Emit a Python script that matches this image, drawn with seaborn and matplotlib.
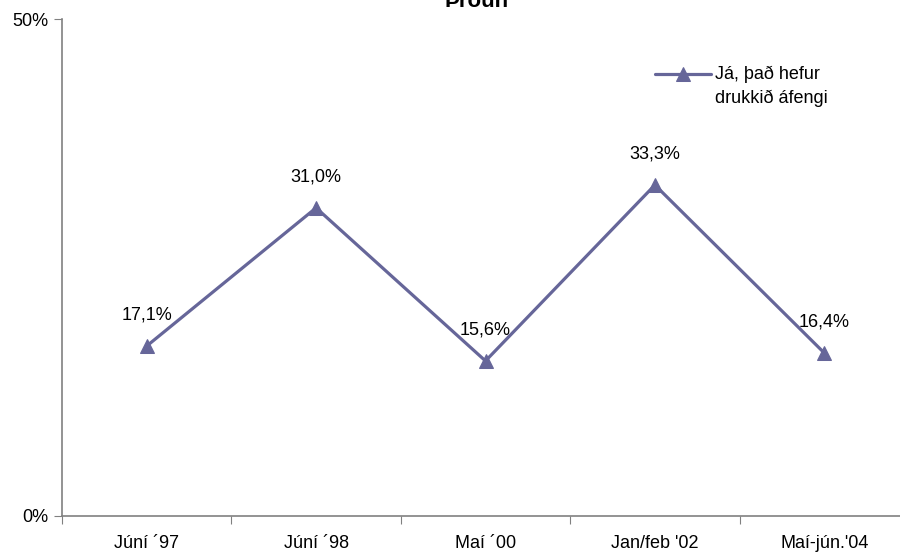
import matplotlib
matplotlib.use("Agg")
import matplotlib.pyplot as plt
import seaborn as sns
import pandas as pd

categories = ["Júní ´97", "Júní ´98", "Maí ´00", "Jan/feb '02", "Maí-jún.'04"]
values = [17.1, 31.0, 15.6, 33.3, 16.4]
series_name = "Já, það hefur\ndrukkið áfengi"
title = "Þróun"

sns.set_style("white")
plt.rcParams['font.family'] = ['Liberation Sans', 'DejaVu Sans']

df = pd.DataFrame({"x": range(len(categories)), "y": values, "s": series_name})
color = "#666699"
fs = 13

fig = plt.figure(figsize=(9, 5.53), dpi=100)
ax = fig.add_axes([62 / 900, 37 / 553, 847 / 900, 497 / 553])

sns.lineplot(data=df, x="x", y="y", hue="s", palette=[color], marker="^",
             markersize=10, markeredgecolor=color, linewidth=2.3, ax=ax)

for i, v in enumerate(values):
    ax.annotate(f"{v:.1f}%".replace(".", ","), (i, v), xytext=(0, 16),
                textcoords="offset points", ha="center", va="bottom", fontsize=fs,
                color="black")

ax.set_xlim(-0.5, len(categories) - 0.5)
ax.set_ylim(0, 50)
ax.set_yticks([0, 50])
ax.set_yticklabels(["0%", "50%"], fontsize=fs)
ax.set_xticks([i - 0.5 for i in range(len(categories) + 1)])
ax.set_xticklabels([])
ax.set_xticks(range(len(categories)), minor=True)
ax.set_xticklabels(categories, minor=True, fontsize=fs)
ax.tick_params(axis="x", which="major", length=6, color="#808080", direction="out", bottom=True)
ax.tick_params(axis="x", which="minor", length=0, pad=14, labelcolor="black")
ax.tick_params(axis="y", length=6, color="#808080", direction="out", left=True, pad=4,
               labelcolor="black")
ax.set_xlabel("")
ax.set_ylabel("")

for side in ["top", "right"]:
    ax.spines[side].set_visible(False)
for side in ["left", "bottom"]:
    ax.spines[side].set_color("#808080")
    ax.spines[side].set_linewidth(1.2)

handles, labels = ax.get_legend_handles_labels()
leg = ax.legend(handles, labels, loc="upper left",
                bbox_to_anchor=((655 - 62) / 847, (516 - 66) / 497),
                frameon=False, fontsize=fs, handlelength=3.1, handletextpad=0.25,
                borderpad=0, borderaxespad=0, labelcolor="black")
leg.get_texts()[0].set_linespacing(1.45)
# put the legend line next to the first text line, not the middle of the two
h = leg.legend_handles[0]
h.set_ydata(h.get_ydata() + 8.6)

fig.text(477 / 900, 1 - 7 / 553, title, ha="center", va="baseline", fontsize=16,
         fontweight="bold", color="black")

fig.savefig("out.png", dpi=100)
